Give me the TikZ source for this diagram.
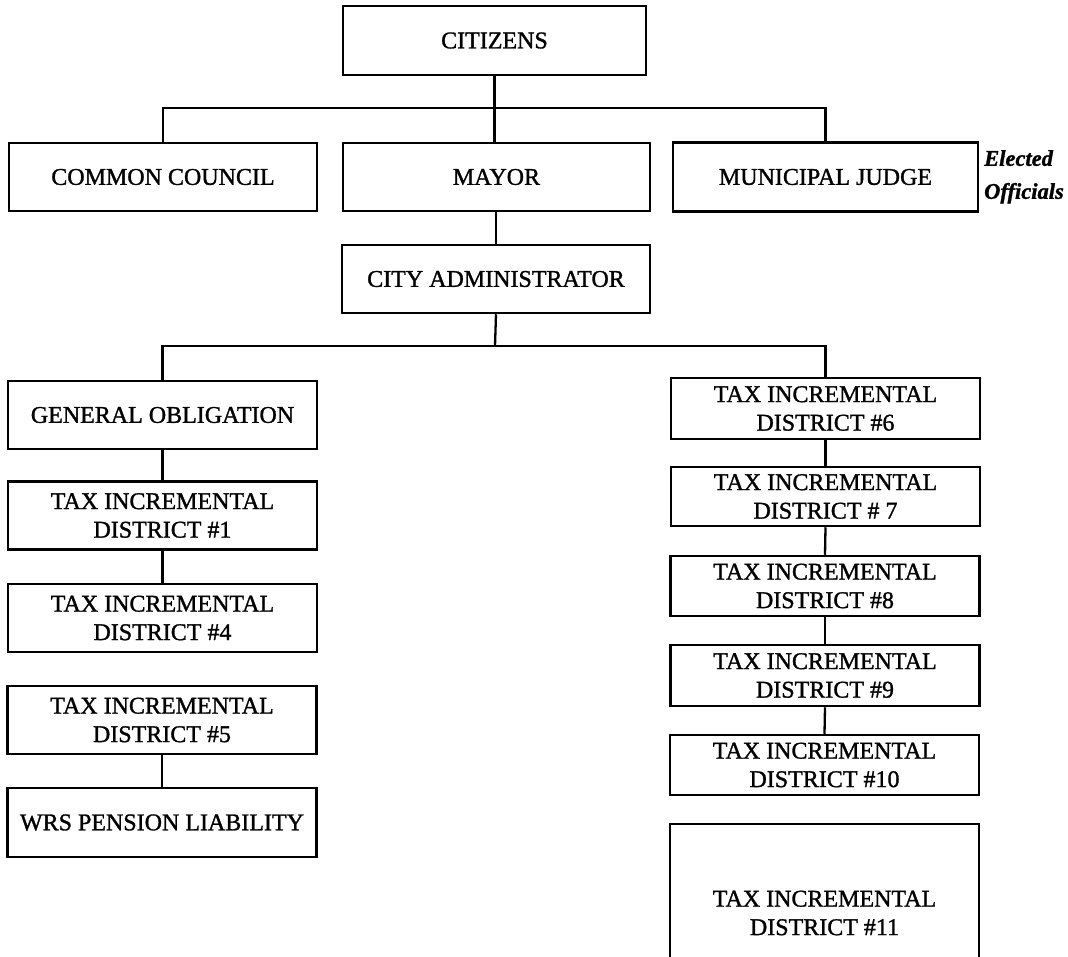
\documentclass[tikz,border=0pt]{standalone}
\usepackage{fontspec}
\setmainfont[FakeBold=1.2]{Liberation Serif}
\begin{document}
\begin{tikzpicture}[x=1pt,y=-1pt,
  box/.style={draw, line width=2.5pt, rectangle, inner sep=0pt, align=center,
    font=\fontsize{24}{28.5}\selectfont},
  wire/.style={line width=2.3pt},
  lbox/.style={box, minimum width=309pt, minimum height=68pt},
  rbox/.style={box, minimum width=309pt, minimum height=61pt}]
\clip (0,0) rectangle (1068,956);
\useasboundingbox (0,0) rectangle (1068,956);
\fill[white] (0,0) rectangle (1068,956);
% top level
\node[box, minimum width=303pt, minimum height=69pt] (cit) at (494.5,40.5) {CITIZENS};
\node[box, minimum width=308pt, minimum height=68pt] (cc) at (163,177) {COMMON COUNCIL};
\node[box, minimum width=307pt, minimum height=68pt] (mayor) at (496.5,177) {MAYOR};
\node[box, minimum width=305pt, minimum height=69pt] (judge) at (825.5,177) {MUNICIPAL JUDGE};
\node[anchor=north west, inner sep=0pt, align=left,
  font=\fontsize{22.5}{33}\selectfont\bfseries\itshape] (elected) at (984,150) {Elected\\Officials};
\node[box, minimum width=308pt, minimum height=68pt] (adm) at (496,279) {CITY ADMINISTRATOR};
% left column
\node[lbox] (go) at (162.5,415) {GENERAL OBLIGATION};
\node[lbox] (t1) at (162.5,515.5) {TAX INCREMENTAL\\DISTRICT \#1};
\node[lbox] (t4) at (162.5,618) {TAX INCREMENTAL\\DISTRICT \#4};
\node[lbox] (t5) at (162,720) {TAX INCREMENTAL\\DISTRICT \#5};
\node[lbox, minimum height=69pt] (wrs) at (162,822.5) {WRS PENSION LIABILITY};
% right column
\node[rbox] (t6) at (825.5,408.5) {TAX INCREMENTAL\\DISTRICT \#6};
\node[rbox, minimum height=59pt] (t7) at (825.5,496.5) {TAX INCREMENTAL\\DISTRICT \# 7};
\node[rbox, minimum height=60pt] (t8) at (825,586) {TAX INCREMENTAL\\DISTRICT \#8};
\node[rbox] (t9) at (825,675.5) {TAX INCREMENTAL\\DISTRICT \#9};
\node[rbox, minimum height=60pt] (t10) at (824.5,765) {TAX INCREMENTAL\\DISTRICT \#10};
\node[rbox, minimum height=178pt] (t11) at (824.5,913) {TAX INCREMENTAL\\DISTRICT \#11};
% connectors
\coordinate (top) at (494.5,108);
\coordinate (mid) at (495,346);
\draw[wire] (cit.south) -- (mayor.north -| cit.south);
\draw[wire] (cc.north) |- (top) -| (judge.north);
\draw[wire] (mayor.south -| adm.north) -- (adm.north);
\draw[wire] (adm.south) -- (mid);
\draw[wire] (go.north) |- (mid) -| (t6.north);
\draw[wire] (go.south) -- (t1.north);
\draw[wire] (t1.south) -- (t4.north);
\draw[wire] (t5.south) -- (wrs.north);
\draw[wire] (t6.south) -- (t7.north);
\draw[wire] (t7.south) -- (t8.north);
\draw[wire] (t8.south) -- (t9.north);
\draw[wire] (t9.south) -- (t10.north);
\end{tikzpicture}
\end{document}
